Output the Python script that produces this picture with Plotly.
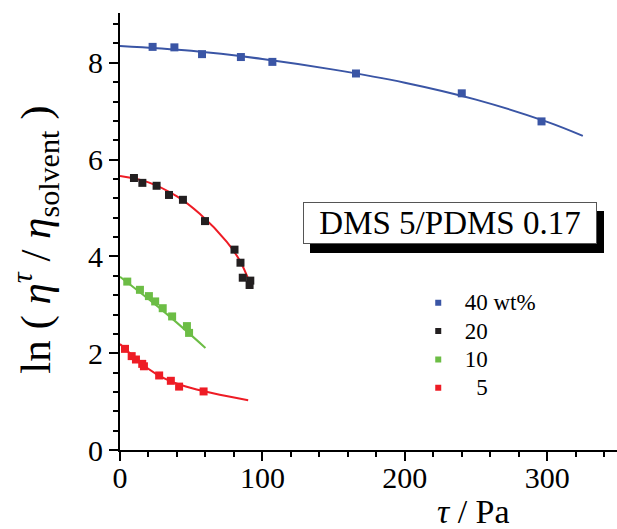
import plotly.graph_objects as go

# ---- data ----
tau_40 = [22.9, 38.2, 57.6, 84.9, 107.0, 165.7, 240.0, 296.0]
ln_40 = [8.33, 8.32, 8.18, 8.12, 8.02, 7.78, 7.37, 6.79]
fit_tau_40 = [0, 50, 100, 150, 200, 250, 300, 325]
fit_ln_40 = [8.35, 8.25, 8.08, 7.86, 7.59, 7.24, 6.78, 6.49]

tau_20 = [9.8, 15.7, 25.7, 34.4, 44.2, 59.7, 80.4, 84.6, 86.2, 91.5, 91.0]
ln_20 = [5.62, 5.52, 5.46, 5.27, 5.17, 4.73, 4.14, 3.87, 3.56, 3.50, 3.41]
fit_tau_20 = [0, 20, 40, 56, 75, 84, 90]
fit_ln_20 = [5.66, 5.53, 5.24, 4.88, 4.30, 3.92, 3.54]

tau_10 = [5.1, 14.0, 20.3, 24.7, 30.0, 36.6, 47.0, 48.5]
ln_10 = [3.48, 3.31, 3.18, 3.07, 2.93, 2.76, 2.56, 2.42]
fit_tau_10 = [0, 30, 60]
fit_ln_10 = [3.58, 2.88, 2.11]

tau_5 = [3.5, 8.2, 11.2, 15.6, 16.8, 27.5, 35.7, 41.5, 58.7]
ln_5 = [2.09, 1.94, 1.87, 1.78, 1.73, 1.54, 1.43, 1.31, 1.21]
fit_tau_5 = [0, 8, 16, 25, 35, 50, 70, 90]
fit_ln_5 = [2.19, 1.97, 1.76, 1.58, 1.43, 1.28, 1.14, 1.03]

legend_labels = ["40 wt%", "20", "10", "\u00a0\u00a05"]

BLUE = "#3a55a5"
BLACK = "#231f20"
GREEN = "#6cbd45"
RED = "#ee1c25"
FONT = "Liberation Serif"

fig = go.Figure()

# fitted curves
for xs, ys, col in [(fit_tau_40, fit_ln_40, BLUE), (fit_tau_20, fit_ln_20, RED),
                    (fit_tau_10, fit_ln_10, GREEN), (fit_tau_5, fit_ln_5, RED)]:
    fig.add_trace(go.Scatter(x=xs, y=ys, mode="lines", line=dict(color=col, width=2, shape="spline"),
                             showlegend=False, hoverinfo="skip"))

# data points
for xs, ys, col in [(tau_40, ln_40, BLUE), (tau_20, ln_20, BLACK),
                    (tau_10, ln_10, GREEN), (tau_5, ln_5, RED)]:
    fig.add_trace(go.Scatter(x=xs, y=ys, mode="markers",
                             marker=dict(symbol="square", size=8, color=col, line=dict(width=0)),
                             showlegend=False))

# legend entries
for lab, col in zip(legend_labels, [BLUE, BLACK, GREEN, RED]):
    fig.add_trace(go.Scatter(x=[None], y=[None], mode="markers",
                             name='<span style="font-size:23px">' + lab + '</span>',
                             marker=dict(symbol="square", size=6, color=col, line=dict(width=0))))

axis_common = dict(showline=True, linecolor="black", linewidth=2, ticks="outside", ticklen=9,
                   tickwidth=2, tickcolor="black", showgrid=False, zeroline=False,
                   tickfont=dict(family=FONT, size=30, color="black"))

fig.update_xaxes(range=[0, 349], dtick=100, tick0=0, ticklabelstandoff=-9,
                 minor=dict(dtick=20, ticklen=5, tickwidth=2, tickcolor="black", ticks="outside"),
                 **axis_common)
fig.update_yaxes(range=[0, 9.03], dtick=2, tick0=0,
                 minor=dict(dtick=0.4, ticklen=5, tickwidth=2, tickcolor="black", ticks="outside"),
                 **axis_common)

annos = []
box_text = "DMS 5/PDMS 0.17"
# shadow box
annos.append(dict(xref="paper", yref="paper", x=0.664, y=0.5195, text="\u00a0", showarrow=False,
                  font=dict(family=FONT, size=33, color="black"), bgcolor="black", bordercolor="black",
                  borderwidth=1, borderpad=0, width=292, height=40, xshift=7, yshift=-9))
# main box
annos.append(dict(xref="paper", yref="paper", x=0.664, y=0.5195, text=box_text, showarrow=False,
                  font=dict(family=FONT, size=33, color="black"), bgcolor="white", bordercolor="#555555",
                  borderwidth=1, borderpad=0, width=292, height=40))
# axis titles
annos.append(dict(xref="paper", yref="paper", x=-0.17, y=0.48, textangle=-90, showarrow=False,
                  text="ln ( <i>η</i><sup><i>τ</i></sup> / <i>η</i><sub>solvent</sub> )",
                  font=dict(family=FONT, size=43, color="black"), xanchor="center", yanchor="middle"))
annos.append(dict(xref="paper", yref="paper", x=0.712, y=-0.1805, showarrow=False,
                  text="<i>τ</i> / Pa", font=dict(family=FONT, size=34, color="black"),
                  xanchor="center", yanchor="bottom", height=32, valign="middle"))

fig.update_layout(
    width=617, height=529,
    margin=dict(l=120, r=0, t=13, b=79),
    paper_bgcolor="white", plot_bgcolor="white",
    annotations=annos,
    legend=dict(x=0.587, y=0.381, xanchor="left", yanchor="top", bgcolor="rgba(0,0,0,0)",
                font=dict(family=FONT, size=19.5, color="black"), itemwidth=43,
                tracegroupgap=0),
)

fig.write_html("out.html", config={"displayModeBar": False},
               post_script="document.body.style.margin='0';")
